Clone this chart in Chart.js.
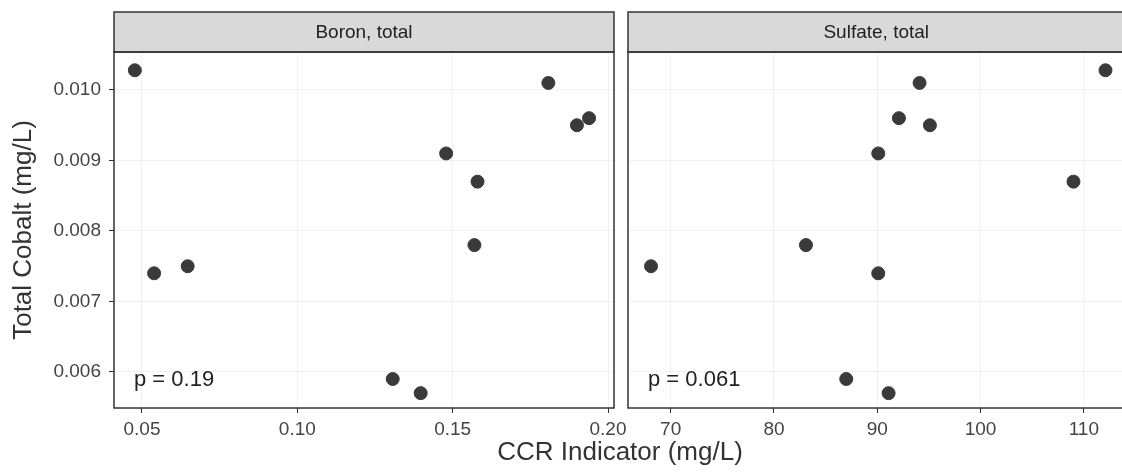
<!DOCTYPE html>
<html>
<head>
<meta charset="utf-8">
<script src="https://cdn.jsdelivr.net/npm/chart.js@4"></script>
<style>
    html, body { margin: 0; padding: 0; background: #fff; overflow: hidden; }
    #wrap { position: relative; width: 1122px; height: 475px; overflow: hidden; }
    #left { position: absolute; left: 0; top: 0; }
    #right { position: absolute; left: 620px; top: 0; }
    #xtitle {
        position: absolute; left: 0; width: 1240px; top: 436px;
        text-align: center; font: 26px "Liberation Sans", Arial, sans-serif; color: #333;
    }
</style>
</head>
<body>
<div id="wrap">
    <div id="left"><canvas id="BoronPlot" width="650" height="475"></canvas></div>
    <div id="right"><canvas id="SulfatePlot" width="512" height="475"></canvas></div>
    <div id="xtitle">CCR Indicator (mg/L)</div>
</div>
<script>
// data
const panelTitles = ['Boron, total', 'Sulfate, total'];
const pLabels = ['p = 0.19', 'p = 0.061'];
const cobalt = [0.01028, 0.0101, 0.0096, 0.0095, 0.0091, 0.0087, 0.0078, 0.0075, 0.0074, 0.0059, 0.0057];
const boron = [0.0477, 0.1808, 0.1939, 0.1900, 0.1479, 0.1580, 0.1570, 0.0647, 0.0539, 0.1307, 0.1397];
const sulfate = [112.1, 94.1, 92.1, 95.1, 90.1, 109.0, 83.1, 68.1, 90.1, 87.0, 91.1];
const yTicks = [0.006, 0.007, 0.008, 0.009, 0.010];
const boronTicks = [0.05, 0.10, 0.15, 0.20];
const sulfateTicks = [70, 80, 90, 100, 110];

const FONT = '"Liberation Sans", Arial, sans-serif';
const gridColor = 'rgba(0, 0, 0, 0.05)';
const inkColor = '#333';

// strip on top, border round the panel, p-value in the corner
const panelPlugin = {
    id: 'panel',
    afterDatasetsDraw(chart, args, opts) {
        const a = chart.chartArea;
        const ctx = chart.ctx;
        ctx.save();
        ctx.fillStyle = '#222';
        ctx.font = '22px ' + FONT;
        ctx.textAlign = 'left';
        ctx.textBaseline = 'middle';
        ctx.fillText(opts.pText, a.left + 20, a.bottom - 28);
        ctx.restore();
    },
    afterDraw(chart, args, opts) {
        const a = chart.chartArea;
        const ctx = chart.ctx;
        ctx.save();
        ctx.fillStyle = '#d9d9d9';
        ctx.fillRect(a.left, 12, a.right - a.left, a.top - 12);
        ctx.strokeStyle = inkColor;
        ctx.lineWidth = 1.5;
        ctx.strokeRect(a.left, 12, a.right - a.left, a.top - 12);
        ctx.strokeRect(a.left, a.top, a.right - a.left, a.bottom - a.top);
        ctx.fillStyle = '#222';
        ctx.font = '19px ' + FONT;
        ctx.textAlign = 'center';
        ctx.textBaseline = 'middle';
        ctx.fillText(opts.title, (a.left + a.right) / 2, (12 + a.top) / 2 + 1);
        ctx.restore();
    }
};

function makePanel(canvasId, xData, xTicks, xMin, xMax, xDigits, title, pText, isLeft) {
    const ctx = document.getElementById(canvasId).getContext('2d');
    return new Chart(ctx, {
        type: 'scatter',
        data: {
            datasets: [{
                data: xData.map((x, i) => ({ x: x, y: cobalt[i] })),
                backgroundColor: '#3a3a3a',
                borderColor: '#3a3a3a',
                pointRadius: 6.5,
                pointHoverRadius: 6.5
            }]
        },
        options: {
            responsive: false,
            animation: false,
            layout: {
                padding: { top: 52, bottom: 27, left: isLeft ? 0 : 8, right: isLeft ? 36 : 4 }
            },
            plugins: {
                legend: { display: false },
                tooltip: { enabled: false },
                panel: { title: title, pText: pText }
            },
            scales: {
                x: {
                    type: 'linear',
                    min: xMin,
                    max: xMax,
                    afterBuildTicks: function (scale) {
                        scale.ticks = xTicks.map(v => ({ value: v }));
                    },
                    afterFit: function (scale) {
                        scale.height = 40;
                        // tick labels may hang over the panel edge, like ggplot
                        scale.paddingLeft = 0;
                        scale.paddingRight = 0;
                    },
                    border: { display: false },
                    grid: { color: gridColor, tickColor: inkColor, tickLength: 5, drawTicks: true },
                    ticks: {
                        color: '#444',
                        padding: 5,
                        maxRotation: 0,
                        font: { family: FONT, size: 19 },
                        callback: v => v.toFixed(xDigits)
                    }
                },
                y: {
                    type: 'linear',
                    min: 0.005489,
                    max: 0.010539,
                    afterBuildTicks: function (scale) {
                        scale.ticks = yTicks.map(v => ({ value: v }));
                    },
                    afterFit: function (scale) {
                        scale.width = isLeft ? 114 : 0;
                        scale.paddingTop = 0;
                        scale.paddingBottom = 0;
                    },
                    border: { display: false },
                    grid: { color: gridColor, tickColor: inkColor, tickLength: 5, drawTicks: isLeft },
                    ticks: {
                        display: isLeft,
                        color: '#444',
                        padding: 8,
                        font: { family: FONT, size: 19 },
                        callback: v => v.toFixed(3)
                    },
                    title: {
                        display: isLeft,
                        text: 'Total Cobalt (mg/L)',
                        color: '#333',
                        padding: { top: 8, bottom: 0 },
                        font: { family: FONT, size: 26 }
                    }
                }
            }
        },
        plugins: [panelPlugin]
    });
}

const boronChart = makePanel('BoronPlot', boron, boronTicks, 0.04099, 0.20193, 2, panelTitles[0], pLabels[0], true);
const sulfateChart = makePanel('SulfatePlot', sulfate, sulfateTicks, 65.87, 113.94, 0, panelTitles[1], pLabels[1], false);
</script>
</body>
</html>
